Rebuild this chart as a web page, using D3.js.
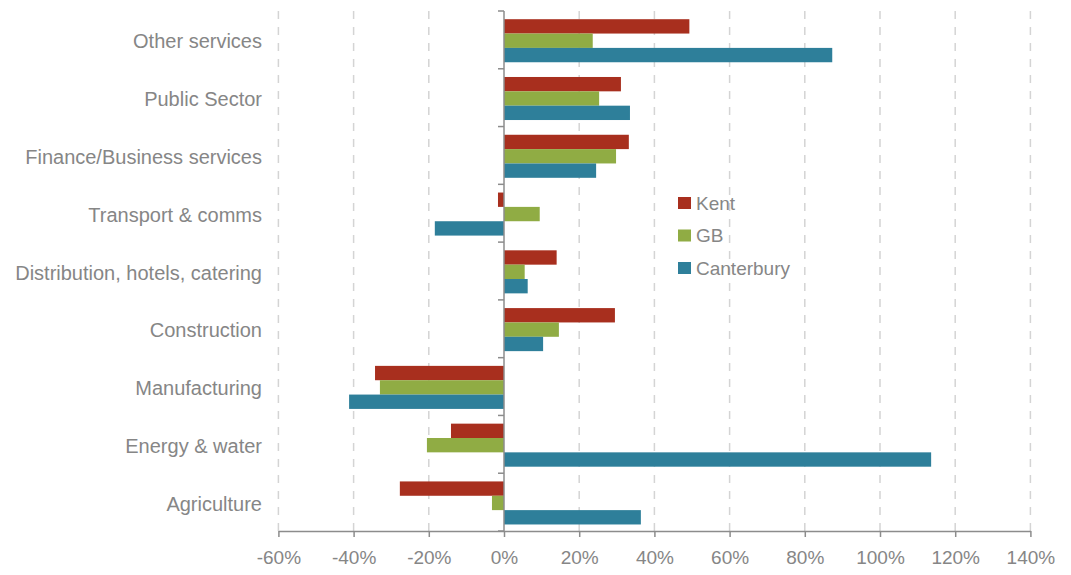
<!DOCTYPE html>
<html>
<head>
<meta charset="utf-8">
<script src="https://cdn.jsdelivr.net/npm/d3@7"></script>
<style>
  html, body { margin: 0; padding: 0; background: #fff; }
  svg { display: block; }
  text { font-family: "Liberation Sans", Arial, sans-serif; fill: #868686; }
</style>
</head>
<body>
<svg id="chart" width="1071" height="575"></svg>
<script>
const categories = ["Other services", "Public Sector", "Finance/Business services", "Transport & comms",
  "Distribution, hotels, catering", "Construction", "Manufacturing", "Energy & water", "Agriculture"];
const seriesNames = ["Kent", "GB", "Canterbury"];
const seriesColors = ["#a82f1e", "#90ac44", "#2e7f9a"];
const kentValues = [49.3, 31.1, 33.2, -1.6, 14.0, 29.5, -34.3, -14.1, -27.7];
const gbValues = [23.6, 25.3, 29.8, 9.5, 5.5, 14.6, -33.0, -20.5, -3.2];
const canterburyValues = [87.3, 33.5, 24.5, -18.4, 6.3, 10.4, -41.2, 113.6, 36.4];
const xTicks = [-60, -40, -20, 0, 20, 40, 60, 80, 100, 120, 140];

const seriesValues = [kentValues, gbValues, canterburyValues];

const svg = d3.select("#chart");
const x = d3.scaleLinear().domain([-60, 140]).range([278.4, 1030.4]);
const y = d3.scaleBand().domain(categories).range([11, 531]).padding(0);
const ySub = d3.scaleBand().domain(seriesNames)
  .range([y.bandwidth() * 0.142, y.bandwidth() * 0.887]).padding(0);

// gridlines
svg.append("g").selectAll("line")
  .data(xTicks.filter(d => d !== 0))
  .join("line")
  .attr("x1", d => x(d)).attr("x2", d => x(d))
  .attr("y1", 11).attr("y2", 531)
  .attr("stroke", "#d4d4d4").attr("stroke-width", 1.5)
  .attr("stroke-dasharray", "8,8");

// bars
const rows = [];
categories.forEach((c, i) => {
  seriesNames.forEach((s, j) => rows.push({cat: c, series: s, value: seriesValues[j][i], color: seriesColors[j]}));
});
svg.append("g").selectAll("rect")
  .data(rows)
  .join("rect")
  .attr("x", d => x(Math.min(0, d.value)))
  .attr("width", d => Math.abs(x(d.value) - x(0)))
  .attr("y", d => y(d.cat) + ySub(d.series))
  .attr("height", ySub.bandwidth())
  .attr("fill", d => d.color);

// x axis
const xAxis = svg.append("g").attr("transform", "translate(0,531)")
  .call(d3.axisBottom(x).tickValues(xTicks).tickFormat(d => d + "%").tickSize(6).tickSizeOuter(0).tickPadding(14));
xAxis.select(".domain").attr("stroke", "#8c8c8c").attr("stroke-width", 1.5);
xAxis.selectAll(".tick line").attr("stroke", "#8c8c8c").attr("stroke-width", 1.5);
xAxis.selectAll(".tick text").style("font-size", "19px").style("font-family", "Liberation Sans, Arial, sans-serif").attr("fill", "#868686");

// y axis at zero
const yAxisLine = svg.append("g").attr("transform", `translate(${x(0)},0)`);
yAxisLine.append("line").attr("x1", 0).attr("x2", 0).attr("y1", 11).attr("y2", 531)
  .attr("stroke", "#8c8c8c").attr("stroke-width", 1.5);
const boundaries = categories.map(c => y(c)).concat([531]);
yAxisLine.selectAll("line.tk").data(boundaries).join("line").attr("class", "tk")
  .attr("x1", -6).attr("x2", 0).attr("y1", d => d).attr("y2", d => d)
  .attr("stroke", "#8c8c8c").attr("stroke-width", 1.5);

// category labels
svg.append("g").selectAll("text")
  .data(categories)
  .join("text")
  .attr("x", 262)
  .attr("y", d => y(d) + y.bandwidth() / 2 + 1.5)
  .attr("dy", "0.35em")
  .attr("text-anchor", "end")
  .style("font-size", "20px")
  .text(d => d);

// legend
const legend = svg.append("g").attr("transform", "translate(678,197)");
seriesNames.forEach((s, i) => {
  const g = legend.append("g").attr("transform", `translate(0,${i * 32.5})`);
  g.append("rect").attr("width", 13).attr("height", 12).attr("fill", seriesColors[i]);
  g.append("text").attr("x", 18).attr("y", 6).attr("dy", "0.36em").style("font-size", "19px").text(s);
});
</script>
</body>
</html>
